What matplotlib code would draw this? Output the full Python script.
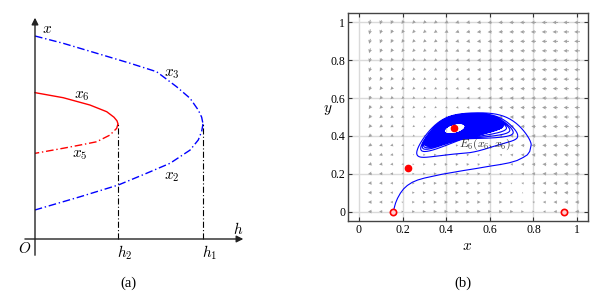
import numpy as np
import matplotlib
matplotlib.use('Agg')
import matplotlib.pyplot as plt

plt.rcParams['font.family'] = 'serif'
plt.rcParams['font.serif'] = ['Liberation Serif', 'DejaVu Serif']
plt.rcParams['mathtext.fontset'] = 'cm'

# ---- (a) bifurcation sketch, branches (h, x) ----
h1 = 1.0
h2 = 0.494
x_vertex = 0.567
x3_h = [0.0, 0.168, 0.367, 0.565, 0.724, 0.843, 0.923, 0.972, 0.992, 1.0]
x3_x = [1.0, 0.964, 0.915, 0.866, 0.824, 0.750, 0.693, 0.635, 0.600, 0.567]
x2_h = [1.0, 0.992, 0.972, 0.923, 0.804, 0.665, 0.496, 0.268, 0.0]
x2_x = [0.567, 0.530, 0.488, 0.438, 0.373, 0.324, 0.266, 0.208, 0.143]
x6_h = [0.0, 0.168, 0.327, 0.427, 0.470, 0.488, 0.494]
x6_x = [0.721, 0.696, 0.660, 0.627, 0.600, 0.582, 0.567]
x5_h = [0.494, 0.486, 0.446, 0.367, 0.270, 0.168, 0.0]
x5_x = [0.567, 0.545, 0.512, 0.479, 0.463, 0.447, 0.422]

# ---- (b) phase portrait ----
eq_x = [0.158, 0.94, 0.226, 0.4375]
eq_y = [0.0, 0.0, 0.228, 0.44]
eq_open = [True, True, False, False]

# trajectory leaving E near (0.16, 0)
path_x = [0.158, 0.162, 0.168, 0.177, 0.19, 0.205, 0.222, 0.245, 0.27, 0.30, 0.34,
          0.38, 0.43, 0.48, 0.54, 0.60, 0.65, 0.69, 0.725, 0.753, 0.772, 0.783]
path_y = [0.0, 0.02, 0.045, 0.07, 0.097, 0.12, 0.138, 0.155, 0.167, 0.177, 0.187,
          0.197, 0.207, 0.217, 0.228, 0.24, 0.249, 0.258, 0.27, 0.286, 0.30, 0.318]
# first (outer) loop of the spiral, counter-clockwise from its right end
loop_x = [0.789, 0.777, 0.745, 0.69, 0.62, 0.55, 0.476, 0.40, 0.34, 0.29, 0.26, 0.248,
          0.30, 0.37, 0.44, 0.51, 0.58, 0.65, 0.72, 0.77]
loop_y = [0.344, 0.40, 0.45, 0.49, 0.516, 0.526, 0.522, 0.496, 0.45, 0.39, 0.32, 0.264,
          0.272, 0.284, 0.296, 0.307, 0.316, 0.324, 0.33, 0.336]
# outer edge of the solid blue part, same orientation
dense_x = [0.665, 0.648, 0.615, 0.568, 0.515, 0.465, 0.415, 0.37, 0.33, 0.295,
           0.34, 0.40, 0.46, 0.52, 0.575, 0.625]
dense_y = [0.448, 0.472, 0.492, 0.507, 0.514, 0.511, 0.495, 0.465, 0.415, 0.35,
           0.355, 0.367, 0.382, 0.399, 0.414, 0.430]
# how far the distinct outer loops have moved toward that edge,
# on their right side and along their bottom side
mix_right = [0.0, 0.48, 0.64, 0.76, 0.88, 1.0]
mix_bottom_s = [0, 0.75, 1.75, 2.75, 3.75, 4.75, 5]
mix_bottom = [0.0, 0.05, 0.93, 0.96, 0.98, 0.99, 1.0]
n_dense = 110
# empty hole round E6 (centre, half axes, tilt in degrees)
hole_cx, hole_cy = 0.439, 0.438
hole_a, hole_b, hole_tilt = 0.05, 0.025, 18

# model behind the direction field
c_pred = 0.49
h_harv = 0.151
s_pred = 0.04

fig = plt.figure(figsize=(6.15, 2.97), dpi=100)

# ================= (a) =================
ax1 = fig.add_axes([0, 0, 270 / 615, 1])
ax1.set_xlim(-35 / 168, 235 / 168)
ax1.set_ylim((239 - 297) / 203, 239 / 203)
ax1.axis('off')

arr = dict(arrowstyle='-|>', color='#222222', lw=1.0, mutation_scale=10, shrinkA=0, shrinkB=0)
ax1.annotate('', xy=(0, 1.09), xytext=(0, -0.08), arrowprops=arr)
ax1.annotate('', xy=(1.24, 0), xytext=(-0.06, 0), arrowprops=arr)

dd = (0, (5.5, 2, 1, 2))
ax1.plot(x3_h, x3_x, color='#0000ff', lw=1.0, ls=dd)
ax1.plot(x2_h, x2_x, color='#0000ff', lw=1.0, ls=dd)
ax1.plot(x6_h, x6_x, color='#ff0000', lw=1.0)
ax1.plot(x5_h, x5_x, color='#ff0000', lw=1.0, ls=dd)
ax1.plot([h2, h2], [0, x_vertex], color='k', lw=0.8, ls=dd)
ax1.plot([h1, h1], [0, x_vertex], color='k', lw=0.8, ls=dd)

fs = 11
ax1.text(0.071, 1.034, '$x$', fontsize=fs, ha='center', va='center')
ax1.text(0.815, 0.813, '$x_3$', fontsize=fs, ha='center', va='center')
ax1.text(0.28, 0.704, '$x_6$', fontsize=fs, ha='center', va='center')
ax1.text(0.268, 0.414, '$x_5$', fontsize=fs, ha='center', va='center')
ax1.text(0.815, 0.305, '$x_2$', fontsize=fs, ha='center', va='center')
ax1.text(1.208, 0.05, '$h$', fontsize=fs, ha='center', va='center')
ax1.text(-0.06, -0.049, '$O$', fontsize=fs, ha='center', va='center')
ax1.text(0.536, -0.069, '$h_2$', fontsize=fs, ha='center', va='center')
ax1.text(1.042, -0.069, '$h_1$', fontsize=fs, ha='center', va='center')

# ================= (b) =================
ax2 = fig.add_axes([348 / 615, 76 / 297, 240 / 615, 208 / 297])
ax2.set_xlim(-0.05, 1.05)
ax2.set_ylim(-0.05, 1.05)
ticks = [0, 0.2, 0.4, 0.6, 0.8, 1]
ax2.set_xticks(ticks)
ax2.set_yticks(ticks)
ax2.set_xticklabels(['0', '0.2', '0.4', '0.6', '0.8', '1'])
ax2.set_yticklabels(['0', '0.2', '0.4', '0.6', '0.8', '1'])
ax2.grid(color='#dadada', lw=1.0, zorder=0)
ax2.set_axisbelow(True)
ax2.tick_params(direction='in', top=True, right=True, length=3, width=0.8,
                color='#333333', labelsize=8.5, pad=2)
for sp in ax2.spines.values():
    sp.set_color('#444444')
    sp.set_linewidth(1.0)

# direction field
gx, gy = np.meshgrid(np.arange(0.05, 1.001, 0.05), np.arange(0.0, 1.001, 0.05))
u = gx * (1 - gx) - c_pred * gx * gy - h_harv
v = s_pred * gy * (1 - gy / gx)
mag = np.hypot(u, v)
L = mag ** 0.25 / mag
ax2.quiver(gx, gy, u * L, v * L, color='#a0a0a0', angles='xy', scale_units='xy',
           scale=1 / 0.03, pivot='mid', width=0.004, headwidth=4, headlength=4,
           headaxislength=3.5, zorder=1)


# spiral: outer loop -> edge of the solid part -> hole, each shape smoothed
# by a short Fourier fit and blended loop by loop
K = 4


def harmonics(a):
    cols = [np.ones_like(a)]
    for k in range(1, K + 1):
        cols += [np.cos(k * a), np.sin(k * a)]
    return np.column_stack(cols)


def fit(px, py):
    tt = 2 * np.pi * np.arange(len(px)) / len(px)
    A = harmonics(tt)
    return np.linalg.lstsq(A, px, rcond=None)[0], np.linalg.lstsq(A, py, rcond=None)[0]


c1x, c1y = fit(loop_x, loop_y)
c2x, c2y = fit(dense_x, dense_y)

n_out = len(mix_right) - 1
s = np.linspace(0, n_out + n_dense, (n_out + n_dense) * 240)
th = 2 * np.pi * s
B = harmonics(th)
ax_, ay_ = B @ c1x, B @ c1y
bx_, by_ = B @ c2x, B @ c2y
phi = np.radians(hole_tilt)
hx = hole_cx + hole_a * np.cos(th) * np.cos(phi) - hole_b * np.sin(th) * np.sin(phi)
hy = hole_cy + hole_a * np.cos(th) * np.sin(phi) + hole_b * np.sin(th) * np.cos(phi)

wb = np.exp(-((s % 1 - 0.75) / 0.12) ** 2)
m1 = (1 - wb) * np.interp(s, range(n_out + 1), mix_right) + wb * np.interp(s, mix_bottom_s, mix_bottom)
m2 = np.clip((s - n_out) / n_dense, 0, 1)
sx = np.where(s <= n_out, (1 - m1) * ax_ + m1 * bx_, (1 - m2) * bx_ + m2 * hx)
sy = np.where(s <= n_out, (1 - m1) * ay_ + m1 * by_, (1 - m2) * by_ + m2 * hy)
tx = np.concatenate([path_x, sx])
ty = np.concatenate([path_y, sy])
ax2.plot(tx, ty, color='#0000ff', lw=0.8, zorder=3)

for ex, ey, op in zip(eq_x, eq_y, eq_open):
    if op:
        ax2.plot(ex, ey, 'o', ms=4.5, mfc='#ffd0d0', mec='#ff0000', mew=1.2, zorder=5)
    else:
        ax2.plot(ex, ey, 'o', ms=4.5, color='#ff0000', zorder=5)

ax2.text(0.58, 0.356, r'$E_6(x_6,x_6)$', fontsize=8.5, color='#303030',
         ha='center', va='center', zorder=4)

ax2.set_xlabel('$x$', fontsize=11, va='center')
ax2.set_ylabel('$y$', fontsize=11, rotation=0, va='center', ha='center')
ax2.xaxis.set_label_coords(0.496, -0.125)
ax2.yaxis.set_label_coords(-0.085, 0.534)

fig.text(128 / 615, 1 - 283 / 297, '(a)', fontsize=10.5, ha='center', va='center')
fig.text(463 / 615, 1 - 283 / 297, '(b)', fontsize=10.5, ha='center', va='center')

fig.savefig('out.png', dpi=100)
